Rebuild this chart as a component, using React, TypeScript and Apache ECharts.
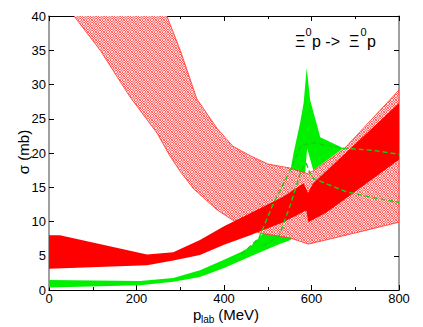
import React, { useEffect, useRef } from "react";
import * as echarts from "echarts";

// Hatched (cross-hatched red) band
const hatchLowerX = [0, 57, 117, 185, 247, 277, 300, 330, 384, 437, 483, 551, 593, 698, 800];
const hatchLower = [44.7, 40, 35, 28.2, 22.9, 19.5, 17.3, 14.8, 11.7, 9.5, 8.3, 7.6, 6.7, 8.3, 9.9];
const hatchUpperX = [200, 270, 300, 338, 384, 420, 460, 500, 551, 590, 604, 673, 800];
const hatchUpper = [51, 39.9, 35, 27.9, 23.6, 21, 19.6, 18.4, 17.8, 17.0, 17.4, 20.5, 29.2];

// Solid red band
const redLowerX = [0, 224, 284, 345, 400, 460, 535, 588, 593, 636, 800];
const redLower = [3.1, 3.6, 4.3, 5.1, 6.6, 8.0, 9.9, 11.6, 9.9, 11.4, 19.0];
const redUpperX = [0, 25, 224, 284, 345, 400, 460, 535, 582, 592, 604, 800];
const redUpper = [8.0, 8.0, 5.2, 5.5, 7.3, 9.3, 11.2, 13.6, 15.6, 14.2, 15.6, 27.3];

// Green band
const greenUpperX = [0, 208, 284, 345, 400, 440, 460, 490, 520, 545, 559, 574, 582, 589, 597, 620, 673];
const greenUpper = [1.45, 1.3, 1.75, 2.9, 4.4, 5.6, 6.3, 8.3, 11, 15, 20, 24.4, 27.3, 32.4, 27.7, 22.3, 20.7];
const greenLowerX = [0, 208, 284, 345, 400, 460, 500, 530, 548, 563, 575, 586, 590, 604, 673];
const greenLower = [0.35, 0.7, 1.2, 1.9, 3.2, 4.9, 6.0, 6.8, 7.2, 7.7, 10.5, 17.5, 20.7, 17.5, 20.7];

// Green dashed curves
const dashAX = [440, 480, 510, 554, 575, 600, 673, 740, 800];
const dashA = [5.2, 7.6, 12.2, 17.8, 21.0, 21.5, 20.7, 20.4, 19.8];
const dashBX = [490, 526, 552, 577, 588, 600, 615, 681, 740, 800];
const dashB = [6.5, 7.9, 12.5, 17.5, 18.5, 16.4, 16.0, 14.3, 13.5, 12.8];

const FONT = "'Liberation Sans', Arial, Helvetica, sans-serif";

function makeHatch(): string {
  const c = document.createElement("canvas");
  c.width = 8;
  c.height = 8;
  const ctx = c.getContext("2d")!;
  for (let j = 0; j < 8; j++) {
    for (let i = 0; i < 8; i++) {
      const big = ((i >> 2) + (j >> 2)) & 1;
      const fine = (i + j) & 1;
      let col: string;
      if (big) col = fine ? "#ff7a7a" : "#ffc4c4";
      else col = fine ? "#ffffff" : "#ff5050";
      ctx.fillStyle = col;
      ctx.fillRect(i, j, 1, 1);
    }
  }
  return c.toDataURL();
}

function band(lx: number[], ly: number[], ux: number[], uy: number[], fill: any, stroke: string | null, lw: number) {
  return {
    type: "custom",
    clip: true,
    silent: true,
    data: [[0, 0]],
    renderItem: (_params: any, api: any) => {
      const pts: number[][] = [];
      for (let i = 0; i < lx.length; i++) pts.push(api.coord([lx[i], ly[i]]));
      for (let i = ux.length - 1; i >= 0; i--) pts.push(api.coord([ux[i], uy[i]]));
      return {
        type: "polygon",
        shape: { points: pts },
        style: { fill, stroke: stroke || "none", lineWidth: lw },
      };
    },
  };
}

function dashed(xs: number[], ys: number[]) {
  return {
    type: "line",
    data: xs.map((x, i) => [x, ys[i]]),
    showSymbol: false,
    symbol: "none",
    silent: true,
    lineStyle: { color: "#10d010", width: 1.4, type: [5, 3] },
  };
}

export default function App() {
  const ref = useRef<HTMLDivElement>(null);
  useEffect(() => {
    if (!ref.current) return;
    const chart = echarts.init(ref.current, null, { renderer: "svg" });
    const hatch = { image: makeHatch(), repeat: "repeat", imageWidth: 8, imageHeight: 8 };
    const axisBase = {
      type: "value",
      splitLine: { show: false },
    };
    chart.setOption({
      animation: false,
      backgroundColor: "#ffffff",
      grid: { left: 49, right: 24, top: 16, bottom: 37, containLabel: false },
      xAxis: [
        {
          ...axisBase,
          position: "bottom",
          min: 0,
          max: 800,
          interval: 200,
          axisLine: { show: true, onZero: false, lineStyle: { color: "#000", width: 1 } },
          axisTick: { show: true, inside: true, length: 5, lineStyle: { color: "#000" } },
          minorTick: { show: true, splitNumber: 2, length: 3, lineStyle: { color: "#000" } },
          axisLabel: { fontSize: 13, color: "#000", margin: 2, fontFamily: FONT },
        },
        {
          ...axisBase,
          position: "top",
          min: 0,
          max: 800,
          interval: 200,
          axisLine: { show: true, onZero: false, lineStyle: { color: "#000", width: 1 } },
          axisTick: { show: true, inside: true, length: 5, lineStyle: { color: "#000" } },
          minorTick: { show: true, splitNumber: 2, length: 3, lineStyle: { color: "#000" } },
          axisLabel: { show: false },
        },
      ],
      yAxis: [
        {
          ...axisBase,
          position: "left",
          min: 0,
          max: 40,
          interval: 5,
          axisLine: { show: true, onZero: false, lineStyle: { color: "#808080", width: 1.5 } },
          axisTick: { show: true, inside: true, length: 5, lineStyle: { color: "#000" } },
          axisLabel: { fontSize: 13, color: "#000", margin: 3, fontFamily: FONT },
        },
        {
          ...axisBase,
          position: "right",
          min: 0,
          max: 40,
          interval: 5,
          axisLine: { show: true, onZero: false, lineStyle: { color: "#808080", width: 1.5 } },
          axisTick: { show: true, inside: true, length: 5, lineStyle: { color: "#000" } },
          axisLabel: { show: false },
        },
      ],
      series: [
        band(greenLowerX, greenLower, greenUpperX, greenUpper, "#00f000", null, 0),
        band(hatchLowerX, hatchLower, hatchUpperX, hatchUpper, hatch, "#ff3030", 0.8),
        band(redLowerX, redLower, redUpperX, redUpper, "#ff0000", null, 0),
        dashed(dashAX, dashA),
        dashed(dashBX, dashB),
      ],
      graphic: [
        {
          type: "text",
          x: 23,
          y: 152,
          rotation: Math.PI / 2,
          style: { text: "σ (mb)", font: `15px ${FONT}`, fill: "#000", align: "center", verticalAlign: "middle" },
        },
        { type: "text", x: 193, y: 314, style: { text: "p", font: `15px ${FONT}`, fill: "#000", align: "left", verticalAlign: "middle" } },
        { type: "text", x: 201, y: 319.5, style: { text: "lab", font: `10px ${FONT}`, fill: "#000", align: "left", verticalAlign: "middle" } },
        { type: "text", x: 214, y: 314, style: { text: " (MeV)", font: `15px ${FONT}`, fill: "#000", align: "left", verticalAlign: "middle" } },
        { type: "text", x: 295, y: 41.5, style: { text: "Ξ", font: `16px ${FONT}`, fill: "#000", align: "left", verticalAlign: "middle" } },
        { type: "text", x: 305.5, y: 31.5, style: { text: "0", font: `11px ${FONT}`, fill: "#000", align: "left", verticalAlign: "middle" } },
        { type: "text", x: 312, y: 41.5, style: { text: "p ->  Ξ", font: `16px ${FONT}`, fill: "#000", align: "left", verticalAlign: "middle" } },
        { type: "text", x: 360.5, y: 31.5, style: { text: "0", font: `11px ${FONT}`, fill: "#000", align: "left", verticalAlign: "middle" } },
        { type: "text", x: 367, y: 41.5, style: { text: "p", font: `16px ${FONT}`, fill: "#000", align: "left", verticalAlign: "middle" } },
      ],
    });
    return () => chart.dispose();
  }, []);
  return <div ref={ref} style={{ position: "fixed", left: 0, top: 0, width: 423, height: 327 }} />;
}
